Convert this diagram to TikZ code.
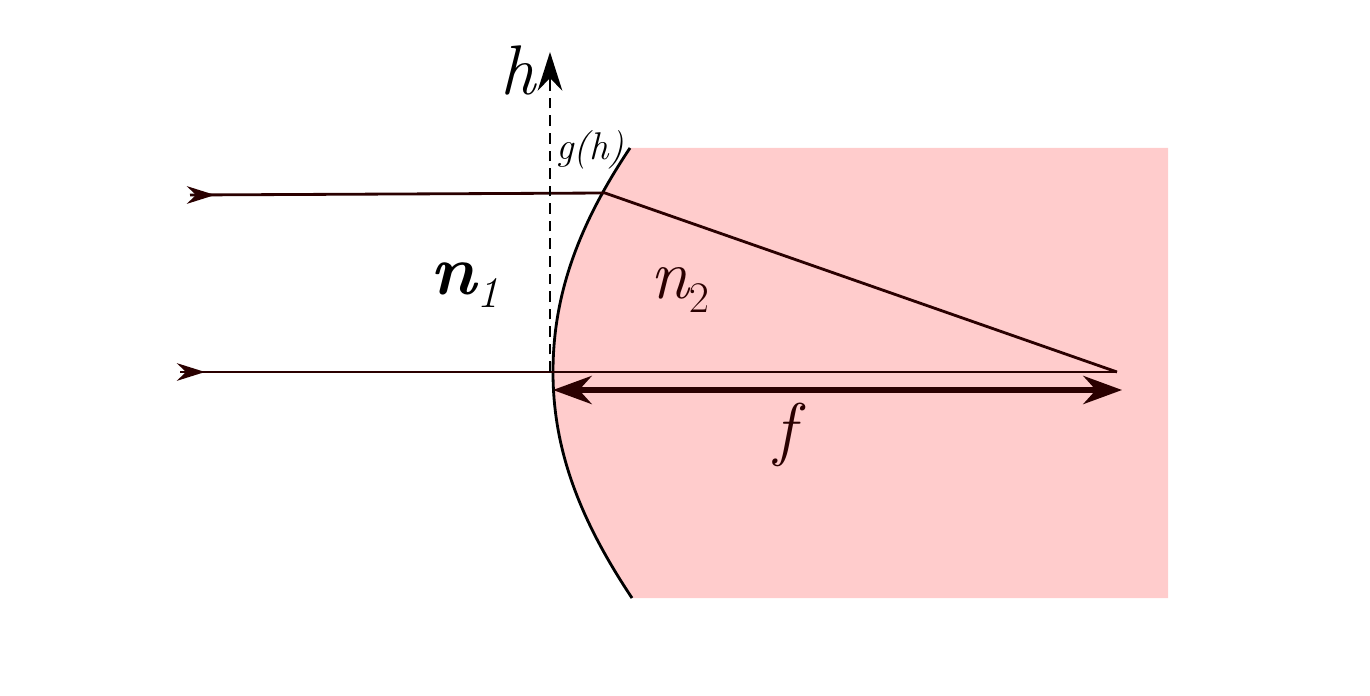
\documentclass[tikz,border=0pt]{standalone}
\usetikzlibrary{arrows.meta}
\definecolor{pinkfill}{HTML}{FFCCCC}
\definecolor{dk}{HTML}{2A0000}
\begin{document}
\begin{tikzpicture}[x=0.02cm,y=-0.02cm,
  ray/.style={line width=1.6pt,dk},
  lbl/.style={font=\fontsize{40}{40}\selectfont\itshape}]
\useasboundingbox (0,0) rectangle (1370,696);
\fill[pinkfill] (630,148) .. controls (575,230) and (553,300) .. (553,372) .. controls (553,450) and (580,520) .. (632,598) -- (1168,598) -- (1168,148) -- cycle;
\draw[line width=1.6pt,black] (630,148) .. controls (575,230) and (553,300) .. (553,372) .. controls (553,450) and (580,520) .. (632,598);
\coordinate (a1) at (190,195); \coordinate (p) at (605,193); \coordinate (F) at (1117,372);
\coordinate (b1) at (180,372); \coordinate (v) at (553,372);
\draw[ray] (a1) -- (p) -- (F);
\draw[ray] (b1) -- (F);
\draw[ray,-{Stealth[length=16pt,width=10pt]}] (a1) -- (215,195);
\draw[ray,-{Stealth[length=16pt,width=10pt]}] (b1) -- (205,372);
\coordinate (f1) at (553,390); \coordinate (f2) at (1122,390);
\draw[line width=3pt,dk,{Stealth[length=22pt,width=16pt]}-{Stealth[length=22pt,width=16pt]}] (f1) -- (f2);
\coordinate (h0) at (550,372); \coordinate (h1) at (550,52);
\draw[line width=1.4pt,dashed,dash pattern=on 6pt off 4pt] (h0) -- (550,85);
\draw[line width=1.4pt,-{Stealth[length=22pt,width=14pt]}] (550,85) -- (h1);
\node[lbl] (hl) at (518,70) {h};
\node[font=\fontsize{22}{22}\selectfont\itshape] (gl) at (590,150) {g(h)};
\node[font=\fontsize{40}{40}\selectfont\bfseries\itshape] (n1) at (468,285) {n$_{\mathit{1}}$};
\node[lbl,dk] (n2) at (680,290) {n$_2$};
\node[lbl,dk] (fl) at (785,435) {f};
\end{tikzpicture}
\end{document}
